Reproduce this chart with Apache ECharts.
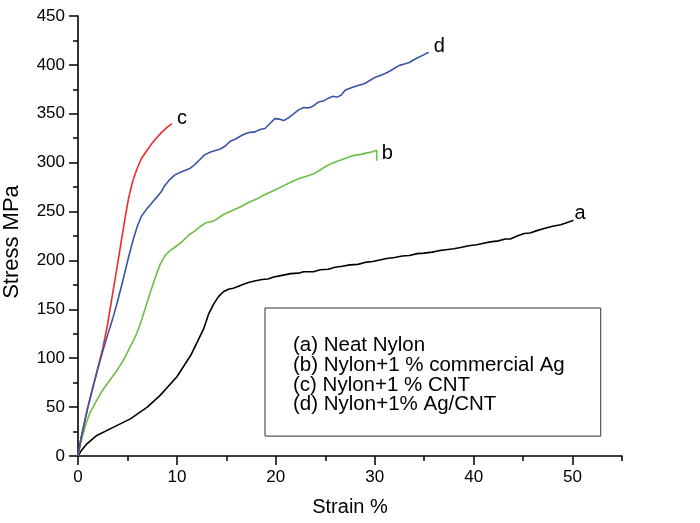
<!DOCTYPE html>
<html>
<head>
<meta charset="utf-8">
<script src="https://cdn.jsdelivr.net/npm/echarts@6/dist/echarts.min.js"></script>
<style>
html,body{margin:0;padding:0;background:#fff;}
#chart{width:700px;height:523px;}
</style>
</head>
<body>
<div id="chart"></div>
<script>
// ---- data ----
var seriesNames = ['(a) Neat Nylon', '(b) Nylon+1 % commercial Ag', '(c) Nylon+1 % CNT', '(d) Nylon+1% Ag/CNT'];
var endTags = ['a', 'b', 'c', 'd'];

var strainA = [0,0.3,0.9,1.9,3.6,5.3,7.0,8.3,10.0,11.4,12.7,13.2,13.7,14.2,14.7,15.2,15.7,16.1,16.8,17.4,18.1,18.6,19.2,19.8,20.5,21.5,22.3,22.8,23.8,24.5,25.3,26.0,26.7,27.5,28.3,29.0,29.8,30.5,31.2,32.0,32.8,33.5,34.3,35.0,35.8,36.5,37.2,38.0,38.8,39.5,40.3,41.0,41.7,42.5,43.2,43.7,44.4,45.1,45.7,46.4,47.2,48.0,48.8,49.4,50.1];
var stressA = [0,5,12.5,21,29.5,38,50,62,81,103,130,145,155,163,168,170.5,171.5,173,176,178,179.5,180.5,181,183,184.5,186.5,187,188.5,188.5,190.5,191,193,194,195.5,196,198,199,200.5,202,203,204.5,205,207,207.5,208.5,210,211,212,213.5,215,216,217.5,219,220,222,222,225,227.5,228,230.5,233,235,236.5,238.5,241];

var strainB = [0,0.2,0.5,0.8,1.2,1.8,2.4,3.1,3.9,4.6,5.2,5.8,6.3,6.8,7.3,7.8,8.3,8.8,9.3,9.8,10.5,11.2,11.8,12.4,12.9,13.5,14.0,14.7,15.5,16.4,17.2,18.1,18.9,19.8,20.6,21.5,22.3,23.1,23.8,24.4,25.0,25.7,26.5,27.2,27.9,28.6,29.2,29.7,30.2,30.2];
var stressB = [0,10,22,33,44,55,66,76,87,98,110,122,135,151,167,182,196,205,210,213.5,219,226,230,235,238.5,239.5,242,247,250.5,254.7,259,263,267.5,271.5,275.5,280,283.5,286,288.5,292,296,299.5,302.5,305,307.5,308.5,310,311,312.6,302];

var strainC = [0,0.3,0.6,1.0,1.5,2.0,2.5,3.0,3.4,3.9,4.3,4.7,5.1,5.5,5.9,6.4,7.0,7.5,8.0,8.5,9.0,9.5];
var stressC = [0,18,32,50,70,90,110,135,160,190,215,240,263,280,292,304,313,320,326,331.5,336,340];

var strainD = [0,0.3,0.6,1.0,1.5,2.0,2.5,3.0,3.5,3.94,4.5,5.1,5.6,6.0,6.4,6.9,7.4,7.9,8.4,8.8,9.3,9.8,10.3,10.8,11.3,11.8,12.3,12.8,13.4,13.9,14.4,14.9,15.4,15.9,16.4,16.9,17.4,17.9,18.4,18.9,19.4,19.9,20.4,20.8,21.3,21.8,22.3,22.8,23.3,23.8,24.3,24.8,25.3,25.8,26.2,26.6,27.0,27.5,28.0,28.5,29.0,29.5,30.0,30.5,31.0,31.5,32.0,32.5,33.0,33.5,34.0,34.5,35.0,35.45];
var stressD = [0,18,32,50,70,89,107,124,140,156,178,203,222,235,245,252,258,264,270,277,283,287.5,290,292,294,298,303,308,311,312.5,314,317,322,324,327,329.5,331,331.5,334,335,340,345,344.5,343,346,350,354,356.5,356,358,362,363,366,368,367,369,374,376,378,379.5,381,384,387,389,391,393.5,396.5,399.5,401,402.5,405.5,408,410.5,413];

var xMajorTicks = [0,10,20,30,40,50];
var yMajorTicks = [0,50,100,150,200,250,300,350,400,450];
// ---------------------------------------

function zip(xs, ys) { return xs.map(function (x, i) { return [x, ys[i]]; }); }

var colors = ['#000000', '#6abf45', '#ee2b2b', '#3b55a6'];
var datasets = [zip(strainA, stressA), zip(strainB, stressB), zip(strainC, stressC), zip(strainD, stressD)];
var labelOffsets = [[-4, -7], [0, -7], [0, -5], [0, -6]];

var FONT = 'Liberation Sans, Arial, sans-serif';

var series = datasets.map(function (d, i) {
  return {
    name: seriesNames[i],
    type: 'line',
    data: d,
    xAxisIndex: 0,
    yAxisIndex: 0,
    showSymbol: false,
    symbol: 'none',
    smooth: false,
    lineStyle: { color: colors[i], width: 1.6 },
    itemStyle: { color: colors[i] },
    endLabel: {
      show: true,
      formatter: endTags[i],
      color: '#000',
      fontSize: 20,
      fontFamily: FONT,
      distance: 5,
      offset: labelOffsets[i]
    },
    emphasis: { disabled: true }
  };
});

var chart = echarts.init(document.getElementById('chart'), null, { renderer: 'canvas' });
chart.setOption({
  animation: false,
  backgroundColor: '#fff',
  grid: { left: 78, right: 78, top: 16, bottom: 67, containLabel: false, outerBoundsMode: 'none' },
  legend: {
    data: seriesNames,
    orient: 'vertical',
    left: 265,
    top: 308,
    padding: [27, 36, 21, 23],
    itemGap: -1.3,
    itemWidth: 0,
    itemHeight: 0,
    icon: 'rect',
    itemStyle: { opacity: 0 },
    lineStyle: { opacity: 0 },
    selectedMode: false,
    borderColor: '#333',
    borderWidth: 1,
    textStyle: { color: '#000', fontSize: 20.5, fontFamily: FONT }
  },
  xAxis: [
    {
      type: 'value', min: 0, max: 55, interval: 5, position: 'bottom',
      name: 'Strain %', nameLocation: 'middle', nameGap: 41,
      nameTextStyle: { color: '#000', fontSize: 20, fontFamily: FONT },
      axisLine: { show: true, onZero: false, lineStyle: { color: '#000', width: 1.6 } },
      axisTick: { show: true, inside: false, length: 9, customValues: xMajorTicks, lineStyle: { color: '#000', width: 1.5 } },
      axisLabel: { show: true, margin: 13, customValues: xMajorTicks, color: '#000', fontSize: 17, fontFamily: FONT },
      splitLine: { show: false }
    },
    {
      type: 'value', min: 0, max: 55, interval: 5, position: 'bottom', offset: 0,
      axisLine: { show: false, onZero: false },
      axisTick: { show: true, inside: false, length: 5, lineStyle: { color: '#000', width: 1.5 } },
      axisLabel: { show: false },
      splitLine: { show: false }
    }
  ],
  yAxis: [
    {
      type: 'value', min: 0, max: 450, interval: 25, position: 'left',
      name: 'Stress MPa', nameLocation: 'middle', nameGap: 55,
      nameTextStyle: { color: '#000', fontSize: 22, fontFamily: FONT, padding: [0, 12, 0, 0] },
      axisLine: { show: true, onZero: false, lineStyle: { color: '#000', width: 1.6 } },
      axisTick: { show: true, inside: false, length: 9, customValues: yMajorTicks, lineStyle: { color: '#000', width: 1.5 } },
      axisLabel: { show: true, margin: 13, customValues: yMajorTicks, color: '#000', fontSize: 17, fontFamily: FONT },
      splitLine: { show: false }
    },
    {
      type: 'value', min: 0, max: 450, interval: 25, position: 'left', offset: 0,
      axisLine: { show: false, onZero: false },
      axisTick: { show: true, inside: false, length: 5, lineStyle: { color: '#000', width: 1.5 } },
      axisLabel: { show: false },
      splitLine: { show: false }
    }
  ],
  series: series
});
</script>
</body>
</html>
